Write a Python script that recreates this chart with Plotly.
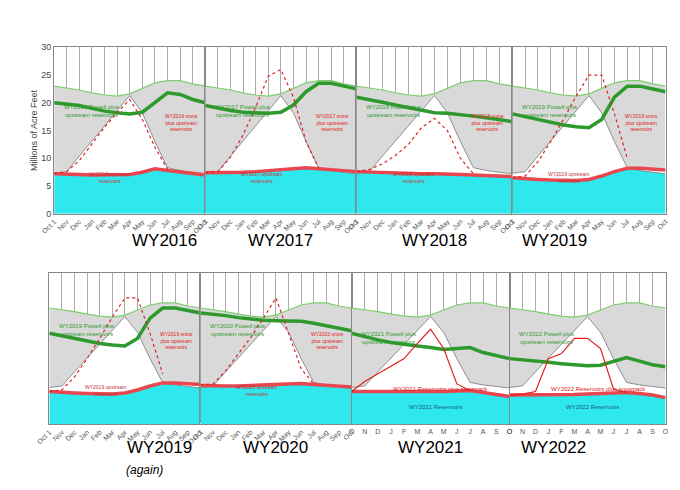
import plotly.graph_objects as go

months = list(range(13))
mlabels = ["Oct 1","Nov","Dec","Jan","Feb","Mar","Apr","May","Jun","Jul","Aug","Sep","Oct"]
short = ["O","N","D","J","F","M","A","M","J","J","A","S","O"]
years = ["WY2016","WY2017","WY2018","WY2019","WY2019","WY2020","WY2021","WY2022"]

capacity = [23,22.7,22.3,21.8,21.4,21.2,21.6,22.6,23.6,24,24,23.4,23]
normal_top = [7.3,7.6,10.4,13.1,15.9,18.6,21.3,18.2,13.0,8.3,7.8,7.5,7.2]

reservoir = {
 "WY2016":[7.2,7.2,7.1,7.0,7.0,7.0,7.1,7.5,8.1,7.8,7.5,7.2,7.0],
 "WY2017":[7.4,7.4,7.4,7.5,7.6,7.8,8.0,8.2,8.3,8.1,7.9,7.7,7.6],
 "WY2018":[7.6,7.5,7.4,7.3,7.3,7.2,7.2,7.2,7.1,7.0,6.9,6.8,6.7],
 "WY2019":[6.5,6.3,6.2,6.1,6.0,6.0,6.2,6.8,7.6,8.2,8.2,8.0,7.9],
 "WY2020":[7.7,7.6,7.6,7.6,7.7,7.8,7.9,8.1,8.1,7.9,7.7,7.5,7.4],
 "WY2021":[6.5,6.5,6.5,6.4,6.4,6.4,6.5,6.5,6.6,6.7,6.3,5.9,5.5],
 "WY2022":[5.8,5.8,5.8,5.8,5.8,5.9,6.0,6.1,6.2,6.3,6.1,5.8,5.3],
}
powell = {
 "WY2016":[20.0,19.8,19.5,19.0,18.5,18.2,18.0,18.3,20.0,21.8,21.5,20.6,20.0],
 "WY2017":[19.5,19.0,18.6,18.3,18.2,18.1,18.3,19.6,22.0,23.5,23.5,23.0,22.5],
 "WY2018":[21.0,20.6,20.1,19.6,19.1,18.6,18.2,18.1,17.9,17.6,17.3,17.0,16.6],
 "WY2019":[18.0,17.5,17.0,16.5,16.0,15.7,15.5,17.0,21.0,23.0,23.0,22.5,22.0],
 "WY2020":[22.0,21.8,21.5,21.1,20.8,20.6,20.5,20.5,20.4,20.0,19.5,19.0,18.5],
 "WY2021":[18.0,17.3,16.7,16.2,15.8,15.5,15.2,14.8,15.0,15.2,14.2,13.6,13.0],
 "WY2022":[13.0,12.8,12.6,12.3,12.0,11.8,11.6,11.7,12.4,13.2,12.5,11.8,11.4],
}
snow_x = [0,1,2,3,4,5,6,7,8,9]
snow = {
 "WY2016":[7.3,7.6,9.6,12.6,15.6,18.2,20.6,17.0,12.0,8.0],
 "WY2017":[7.4,7.6,10.2,14.2,19.2,24.8,26.0,21.0,13.0,8.2],
 "WY2018":[7.6,8.0,9.0,10.5,12.5,15.5,17.2,15.0,10.0,7.2],
 "WY2019":[6.5,6.8,9.4,13.0,17.0,21.2,25.0,25.0,18.0,10.0],
 "WY2020":[7.8,8.0,10.6,14.0,17.2,21.0,25.0,18.0,11.0,8.0],
 "WY2021":[6.5,8.5,10.0,11.5,13.0,16.0,18.8,15.0,8.0,6.7],
 "WY2022":[5.8,6.0,6.5,13.0,14.0,17.0,17.0,15.0,7.0,6.3],
}

W, H = 680, 490
panels = [(33,188,35,205),(188,343,35,205),(343,503,35,205),(503,660,35,205),
          (28,183,265,420),(183,338,265,420),(338,500,265,420),(500,660,265,420)]
title_y = [232]*4 + [455]*4

fig = go.Figure()
for i,(yr,(x0,x1,y0,y1)) in enumerate(zip(years,panels)):
    n = i+1
    xa = "x" if n==1 else f"x{n}"
    ya = "y" if n==1 else f"y{n}"
    res, pw, sn = reservoir[yr], powell[yr], snow[yr]
    kw = dict(xaxis=xa, yaxis=ya, showlegend=False, hoverinfo="skip")
    fig.add_trace(go.Scatter(x=months, y=res, mode="lines", line=dict(width=0), fill="tozeroy", fillcolor="#2ee8ee", **kw))
    fig.add_trace(go.Scatter(x=months, y=capacity, mode="lines", line=dict(color="#7fce6e", width=1.2), fill="tonexty", fillcolor="#d9d9d9", **kw))
    fig.add_trace(go.Scatter(x=months, y=res, mode="lines", line=dict(width=0), **kw))
    fig.add_trace(go.Scatter(x=months, y=normal_top, mode="lines", line=dict(color="#777", width=0.8), fill="tonexty", fillcolor="white", **kw))
    fig.add_trace(go.Scatter(x=months, y=res, mode="lines", line=dict(color="#e8474f", width=3.5), **kw))
    fig.add_trace(go.Scatter(x=months, y=pw, mode="lines", line=dict(color="#2e9a2e", width=3.5), **kw))
    solid = n >= 7
    fig.add_trace(go.Scatter(x=snow_x, y=sn, mode="lines", line=dict(color="#e02020", width=1.2, dash=None if solid else "dot"), **kw))
    dom_x = [x0/W, x1/W]
    dom_y = [1-y1/H, 1-y0/H]
    lay_x = dict(domain=dom_x, range=[0,12], tickmode="array", tickvals=months,
                 ticktext=short if solid else mlabels, tickangle=0 if solid else -45,
                 tickfont=dict(size=7, color="#555"), showgrid=True, gridcolor="#aaa", gridwidth=0.6,
                 showline=True, linecolor="#888", mirror=True, anchor=ya, fixedrange=True, ticks="")
    lay_y = dict(domain=dom_y, range=[0,30], showgrid=False, showline=True, linecolor="#888", mirror=True,
                 anchor=xa, tickvals=[0,5,10,15,20,25,30], showticklabels=(n==1),
                 tickfont=dict(size=9, color="#444"), ticks="")
    if n==1:
        lay_y["title"] = dict(text="Millions of Acre Feet", font=dict(size=9, color="#444"), standoff=2)
    fig.layout[("xaxis" if n==1 else f"xaxis{n}")] = lay_x
    fig.layout[("yaxis" if n==1 else f"yaxis{n}")] = lay_y
    fig.add_annotation(x=0.05, y=0.62 if not solid else 0.57, text=f"{yr} Powell plus<br>upstream reservoirs", font=dict(size=6, color="#2e9a2e"), xref=f"{xa} domain", yref=f"{ya} domain", showarrow=False, xanchor="left")
    if solid:
        fig.add_annotation(x=0.25, y=0.2, text=f"{yr} Reservoirs plus snowpack", font=dict(size=6, color="#e02020"), xref=f"{xa} domain", yref=f"{ya} domain", showarrow=False, xanchor="left")
        fig.add_annotation(x=0.35, y=0.08, text=f"{yr} Reservoirs", font=dict(size=6, color="#1a5a8a"), xref=f"{xa} domain", yref=f"{ya} domain", showarrow=False, xanchor="left")
    else:
        fig.add_annotation(x=0.72, y=0.55, text=f"{yr} snow<br>plus upstream<br>reservoirs", font=dict(size=5, color="#e02020"), xref=f"{xa} domain", yref=f"{ya} domain", showarrow=False, xanchor="left")
        fig.add_annotation(x=0.22, y=0.17, text=f"{yr} upstream<br>reservoirs", font=dict(size=5, color="#c03030"), xref=f"{xa} domain", yref=f"{ya} domain", showarrow=False, xanchor="left")
    fig.add_annotation(x=(x0+x1)/2/W, y=1-title_y[i]/H, xref="paper", yref="paper", text=yr,
                       showarrow=False, font=dict(size=17, color="black", family="Liberation Sans"))

fig.add_annotation(x=105/W, y=1-476/H, xref="paper", yref="paper", text="<i>(again)</i>",
                   showarrow=False, font=dict(size=12, color="black", family="Liberation Sans"))

fig.update_layout(width=W, height=H, margin=dict(l=0,r=0,t=0,b=0), plot_bgcolor="white",
                  paper_bgcolor="white", font=dict(family="Liberation Sans"))
fig.write_html("out.html")
